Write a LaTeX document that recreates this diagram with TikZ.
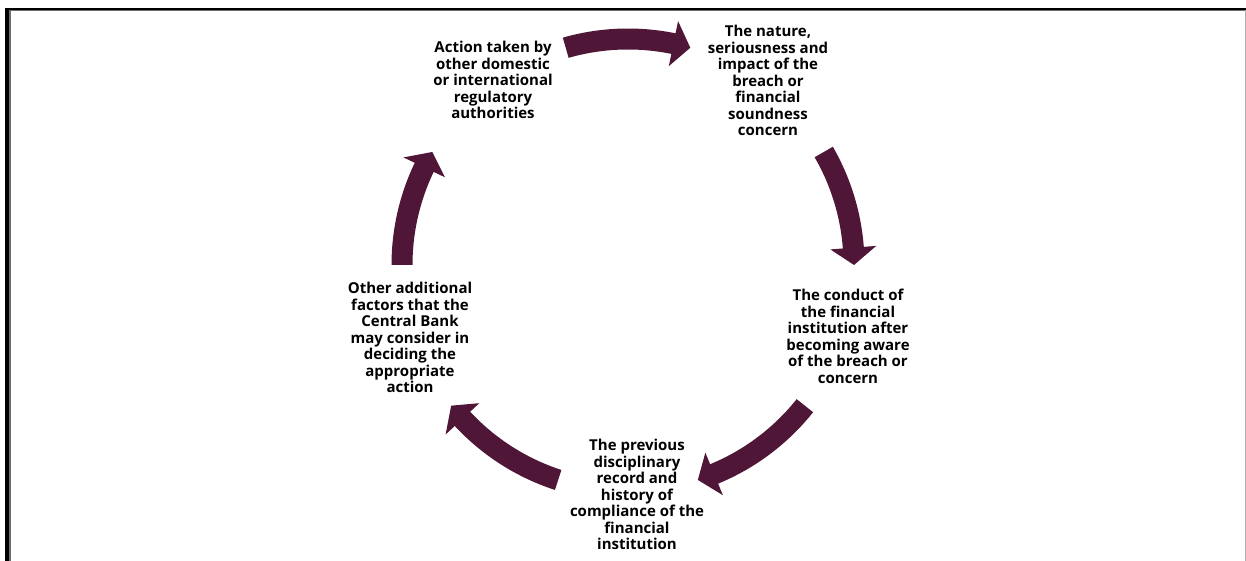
\documentclass[tikz,border=0pt]{standalone}
\usepackage{fontspec}
\setmainfont{Open Sans}
\usetikzlibrary{calc}

\definecolor{wine}{RGB}{80,22,55}
\definecolor{rulegray}{RGB}{110,110,110}
\definecolor{edgegray}{RGB}{175,175,175}

% curved block arrow on the cycle: #1 = tail angle, #2 = tip angle (clockwise)
\newcommand\cyclearrow[2]{%
  \pgfmathsetmacro\headback{#2+4.4}%
  \fill[wine] ($(c)+(#1:236.5pt)$)
      arc[start angle=#1,end angle=\headback,radius=236.5pt]
      -- ($(c)+(\headback:249pt)$) -- ($(c)+(#2:226pt)$) -- ($(c)+(\headback:203pt)$)
      -- ($(c)+(\headback:215.5pt)$)
      arc[start angle=\headback,end angle=#1,radius=215.5pt] -- cycle;
}

\tikzset{
  factor/.style={align=center, inner sep=0pt, text=black,
    font=\fontsize{15}{16.5}\selectfont\bfseries},
}

\begin{document}
\begin{tikzpicture}[x=1pt,y=1pt]
\useasboundingbox (0,0) rectangle (1246,561);

% frame
\fill[black] (5,551.3) rectangle (1246,553);
\fill[rulegray] (9.3,550) rectangle (1246,551.3);
\fill[black] (5,0) rectangle (9.3,553);
\fill[rulegray] (9.3,0) rectangle (11,551.3);
\fill[edgegray] (1245,0) rectangle (1246,551);

\coordinate (c) at (628,296);

% factors
\node[factor] (tl) at (493,481) {Action taken by\\other domestic\\or international\\regulatory\\authorities};
\node[factor] (tr) at (768,480.5) {The nature,\\seriousness and\\impact of the\\breach or\\financial\\soundness\\concern};
\node[factor] (rt) at (848,224.5) {The conduct of\\the financial\\institution after\\becoming aware\\of the breach or\\concern};
\node[factor] (bt) at (637,66.5) {The previous\\disciplinary\\record and\\history of\\compliance of the\\financial\\institution};
\node[factor] (lt) at (410,223.5) {Other additional\\factors that the\\Central Bank\\may consider in\\deciding the\\appropriate\\action};

% arrows of the cycle
\cyclearrow{106}{74}
\cyclearrow{30}{0}
\cyclearrow{-38.5}{-72}
\cyclearrow{-108}{-141.5}
\cyclearrow{180}{150}

\end{tikzpicture}
\end{document}
